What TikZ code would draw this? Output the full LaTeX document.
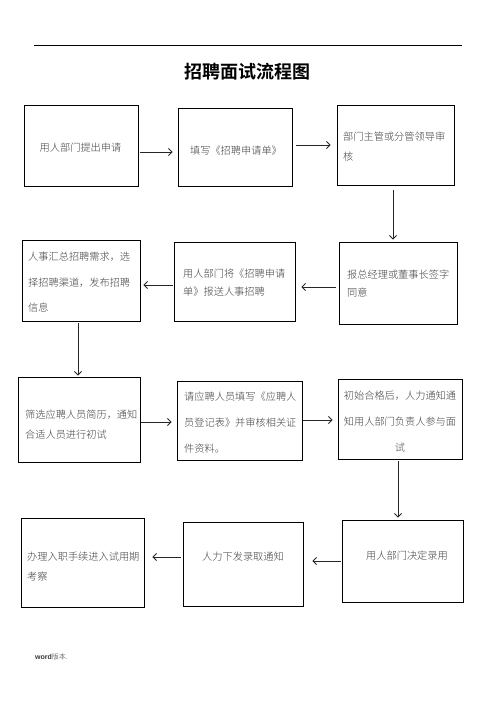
\documentclass[tikz,border=0pt]{standalone}
\usepackage{fontspec}
\setmainfont{Noto Sans CJK SC Light}[BoldFont={Noto Sans CJK SC Bold}]
\newfontfamily\wordfont{Liberation Sans}
\usetikzlibrary{arrows.meta}
\begin{document}
\begin{tikzpicture}[x=1pt,y=-1pt,
  box/.style={draw=black,line width=0.9pt,inner sep=0pt,fill=white},
  txt/.style={inner sep=0pt,text=black!75,font=\fontsize{10.2}{20}\selectfont,align=left},
  arr/.style={line width=0.9pt,draw=black!85,-{Straight Barb[length=3.5pt,width=7pt]}}]
\useasboundingbox (0,0) rectangle (496,702);
\draw[line width=0.8pt] (34,45) coordinate (la) -- (462,45) coordinate (lb);
\node[inner sep=0pt,font=\fontsize{18}{18}\selectfont\bfseries] (title) at (247.5,72) {招聘面试流程图};
% boxes
\node[box,minimum width=114pt,minimum height=81pt] (A) at (81,145.5) {};
\node[box,minimum width=114pt,minimum height=78pt] (B) at (235,147) {};
\node[box,minimum width=117pt,minimum height=80pt] (C) at (395.5,145) {};
\node[box,minimum width=118pt,minimum height=81pt] (D) at (81,280.5) {};
\node[box,minimum width=121pt,minimum height=79pt] (E) at (234.5,281.5) {};
\node[box,minimum width=118pt,minimum height=82pt] (F) at (398,283) {};
\node[box,minimum width=122pt,minimum height=85pt] (G) at (79,419.5) {};
\node[box,minimum width=125pt,minimum height=79pt] (H) at (239.5,420.5) {};
\node[box,minimum width=124pt,minimum height=80pt] (I) at (400,419) {};
\node[box,minimum width=123pt,minimum height=89pt] (K) at (82.5,562.5) {};
\node[box,minimum width=120pt,minimum height=84pt] (L) at (243,564) {};
\node[box,minimum width=121pt,minimum height=82pt] (J) at (402.5,561) {};
% texts
\node[txt] (tA) at (80.5,148) {用人部门提出申请};
\node[txt] (tB) at (236,151) {填写《招聘申请单》};
\node[txt,anchor=west] (tC) at (343,147) {部门主管或分管领导审\\核};
\node[txt,anchor=west,font=\fontsize{10.2}{25.5}\selectfont] (tD) at (28,282.5) {人事汇总招聘需求，选\\择招聘渠道，发布招聘\\信息};
\node[txt,anchor=west,font=\fontsize{10.2}{18}\selectfont] (tE) at (183,283) {用人部门将《招聘申请\\单》报送人事招聘};
\node[txt,anchor=west,font=\fontsize{10.2}{18}\selectfont] (tF) at (347,284) {报总经理或董事长签字\\同意};
\node[txt,anchor=west] (tG) at (25,425) {筛选应聘人员简历，通知\\合适人员进行初试};
\node[txt,anchor=west,font=\fontsize{10.2}{26}\selectfont] (tH) at (184,423) {请应聘人员填写《应聘人\\员登记表》并审核相关证\\件资料。};
\node[txt,align=center,font=\fontsize{10.2}{26}\selectfont] (tI) at (400,422) {初始合格后，人力通知通\\知用人部门负责人参与面\\试};
\node[txt,anchor=west] (tK) at (27,567) {办理入职手续进入试用期\\考察};
\node[txt] (tL) at (243,557) {人力下发录取通知};
\node[txt] (tJ) at (407,556) {用人部门决定录用};
% arrows
\draw[arr] ([shift={(2,6.5)}]A.east) -- ([shift={(-5,5)}]B.west);
\draw[arr] ([shift={(4,-2)}]B.east) -- ([shift={(-6,0)}]C.west);
\draw[arr] ([shift={(-2.5,5)}]C.south) -- ([shift={(-5,-2)}]F.north);
\draw[arr] ([shift={(-3,4)}]F.west) -- ([shift={(6,5.5)}]E.east);
\draw[arr] ([shift={(-1,3.5)}]E.west) -- ([shift={(3,4.5)}]D.east);
\draw[arr] ([shift={(-3,2)}]D.south) -- ([shift={(-1,-1)}]G.north);
\draw[arr] ([shift={(1,2.5)}]G.east) -- ([shift={(-5,1.5)}]H.west);
\draw[arr] ([shift={(1,-0.5)}]H.east) -- ([shift={(-5,1)}]I.west);
\draw[arr] ([shift={(-2,2)}]I.south) -- ([shift={(-4.5,-2)}]J.north);
\draw[arr] ([shift={(-1,0)}]J.west) -- ([shift={(9,-3)}]L.east);
\draw[arr] ([shift={(-2,-7)}]L.west) -- ([shift={(8,-5.5)}]K.east);
% footer
\node[inner sep=0pt,anchor=west,font=\fontsize{7}{8}\selectfont,text=black!80] (foot) at (35,657) {{\wordfont\bfseries word}版本.};
\end{tikzpicture}
\end{document}
